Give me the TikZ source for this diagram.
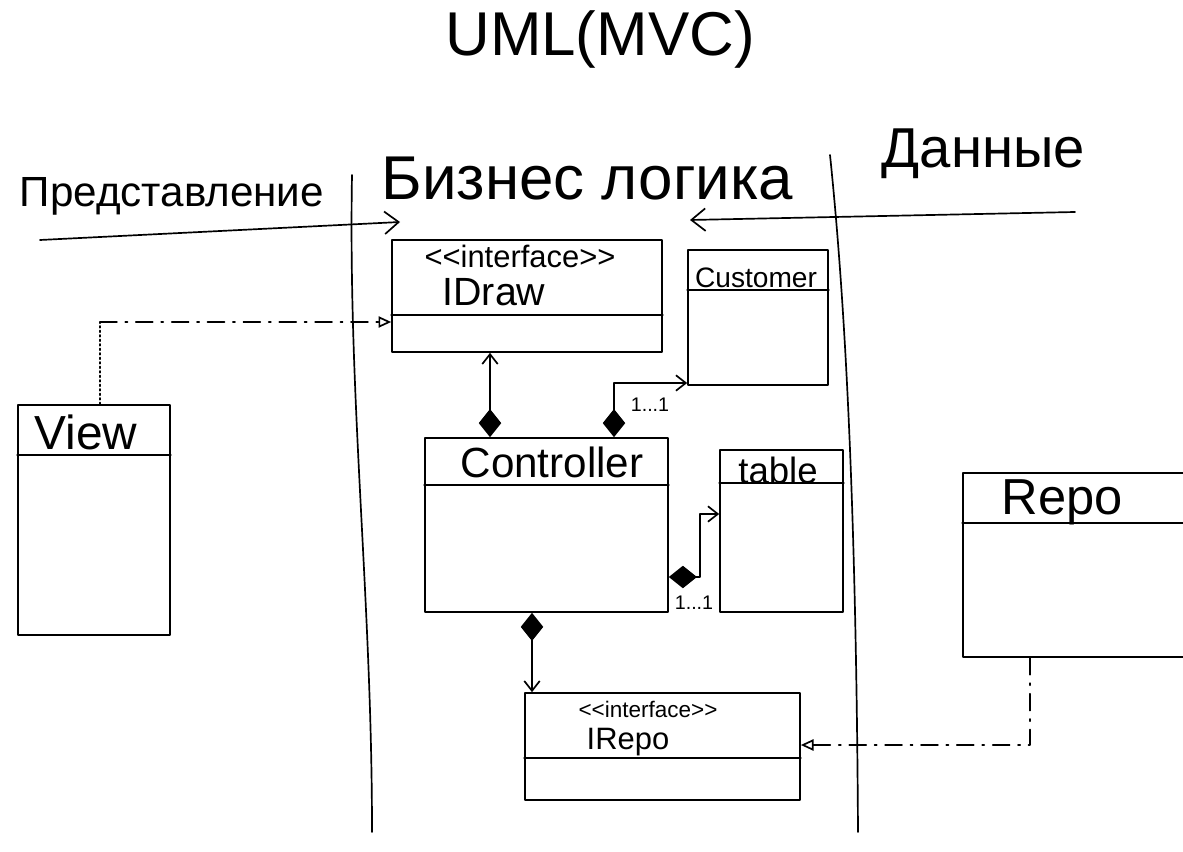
\documentclass[tikz,border=0pt]{standalone}
\usepackage{fontspec}
\setmainfont{Liberation Sans}
\usetikzlibrary{arrows.meta, positioning, fit}

\tikzset{
	pen/.style={line width=1.2pt, line cap=round, line join=round},
	classbox/.style={pen, draw, inner sep=0pt},
	flow/.style={pen, -{Straight Barb[length=10pt, width=16pt]}},
	compose/.style={pen, {Diamond[length=20pt, width=16pt]}-{Straight Barb[length=7pt, width=11pt]}},
	realize/.style={pen, dash pattern=on 12pt off 6pt on 1.5pt off 6pt, -{Triangle[open, length=9pt, width=8pt]}},
	hand/.style={font=\fontsize{#1}{#1}\selectfont, inner sep=1pt},
}

\begin{document}
\begin{tikzpicture}[x=0.025cm, y=-0.025cm]
	\useasboundingbox (0,0) rectangle (1183,852);
	\clip (0,0) rectangle (1183,852);

	\node[hand=44, anchor=base] (title) at (600,56) {UML(MVC)};
	\node[hand=30, anchor=base west] (pres) at (18,207) {Представление};
	\node[hand=44, anchor=base west] (logic) at (380,200) {Бизнес логика};
	\node[hand=40, anchor=base west] (data) at (880,168) {Данные};

	\draw[pen] (352,175) .. controls (348,400) and (372,600) .. (372,832);
	\draw[pen] (830,155) .. controls (845,300) and (856,500) .. (858,832);

	\coordinate (presFrom) at (40,240);
	\coordinate (presTo) at (400,222);
	\draw[flow] (presFrom) -- (presTo);
	\coordinate (dataFrom) at (1075,212);
	\coordinate (dataTo) at (690,220);
	\draw[flow] (dataFrom) -- (dataTo);

	\node[classbox, fit={(392,240) (662,352)}] (idraw) {};
	\node[classbox, fit={(688,250) (828,385)}] (cust) {};
	\node[classbox, fit={(425,438) (668,612)}] (ctrl) {};
	\node[classbox, fit={(720,450) (843,612)}] (tbl) {};
	\node[classbox, fit={(18,405) (170,635)}] (view) {};
	\node[classbox, fit={(963,473) (1200,657)}] (repo) {};
	\node[classbox, fit={(525,693) (800,800)}] (irepo) {};

	\draw[pen] (idraw.west |- 0,315) -- (idraw.east |- 0,315);
	\draw[pen] (cust.west |- 0,290) -- (cust.east |- 0,290);
	\draw[pen] (ctrl.west |- 0,485) -- (ctrl.east |- 0,485);
	\draw[pen] (tbl.west |- 0,483) -- (tbl.east |- 0,483);
	\draw[pen] (view.west |- 0,455) -- (view.east |- 0,455);
	\draw[pen] (repo.west |- 0,523) -- (repo.east |- 0,523);
	\draw[pen] (irepo.west |- 0,758) -- (irepo.east |- 0,758);

	\node[hand=22] (idrawStereo) at (520,256) {{<}{<}interface{>}{>}};
	\node[hand=28] (idrawName) at (494,292) {IDraw};
	\node[hand=20] (custName) at (756,278) {Customer};
	\node[hand=30] (ctrlName) at (552,462) {Controller};
	\node[hand=26] (tblName) at (778,470) {table};
	\node[hand=34] (viewName) at (86,432) {View};
	\node[hand=36] (repoName) at (1062,502) {Repo};
	\node[hand=16] (irepoStereo) at (648,709) {{<}{<}interface{>}{>}};
	\node[hand=22] (irepoName) at (628,742) {IRepo};

	\coordinate (viewBend) at (100,322);
	\draw[pen, dotted] (view.north -| viewBend) -- (viewBend);
	\draw[realize] (viewBend) -- (idraw.west |- viewBend);

	\draw[compose] (ctrl.north -| 490,0) -- (idraw.south -| 490,0);

	\coordinate (custBend) at (614,383);
	\draw[compose] (ctrl.north -| custBend) -- (custBend) -- (cust.west |- custBend);
	\node[hand=14] (custMult) at (650,405) {1...1};

	\coordinate (tblLow) at (700,577);
	\coordinate (tblHigh) at (700,514);
	\draw[compose] (ctrl.east |- tblLow) -- (tblLow) -- (tblHigh) -- (tbl.west |- tblHigh);
	\node[hand=14] (tblMult) at (694,603) {1...1};

	\draw[compose] (ctrl.south -| 532,0) -- (irepo.north -| 532,0);

	\coordinate (repoBend) at (1030,745);
	\draw[realize] (repo.south -| repoBend) -- (repoBend) -- (irepo.east |- repoBend);
\end{tikzpicture}
\end{document}
